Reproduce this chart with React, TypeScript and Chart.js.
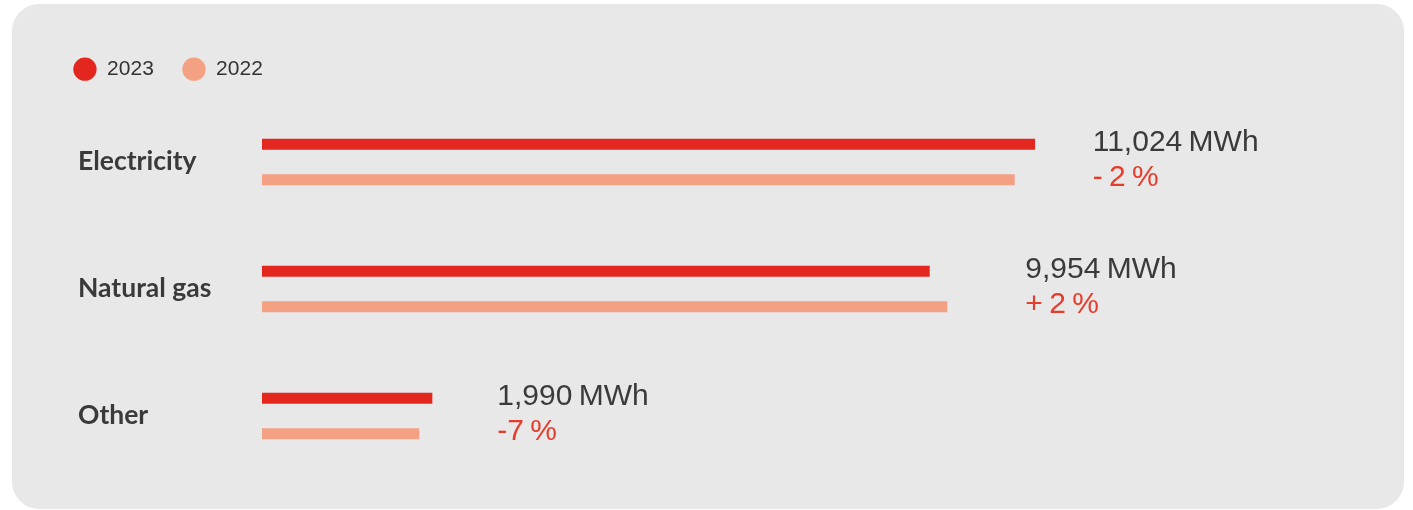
import React, { useEffect, useRef } from 'react';
import { Chart, registerables } from 'chart.js';

Chart.register(...registerables);

// ---- data ----
const categories = ['Electricity', 'Natural gas', 'Other'];
const seriesNames = ['2023', '2022'];
// bar lengths as drawn in the picture (MWh scale)
const bars2023 = [11024, 9522, 2429];
const bars2022 = [10734, 9773, 2243];
const valueLabels = ['11,024 MWh', '9,954 MWh', '1,990 MWh'];
const changeLabels = ['- 2 %', '+ 2 %', '-7 %'];
const axisMin = 0;
const axisMax = 16000;

const RED = '#e3271f';
const SALMON = '#f3a083';

const valueLabelPlugin = {
  id: 'valueLabels',
  afterDatasetsDraw(chart: any) {
    const ctx = chart.ctx as CanvasRenderingContext2D;
    const m0 = chart.getDatasetMeta(0);
    const m1 = chart.getDatasetMeta(1);
    ctx.save();
    ctx.textAlign = 'left';
    ctx.textBaseline = 'alphabetic';
    categories.forEach((_, i) => {
      const b0 = m0.data[i];
      const b1 = m1.data[i];
      const x = b1.x + 78;
      ctx.font = '30px "Liberation Sans", Arial, sans-serif';
      ctx.fillStyle = '#3a3a3a';
      (ctx as any).wordSpacing = '-2px';
      ctx.fillText(valueLabels[i], x, b0.y + 6.5);
      ctx.fillStyle = '#e63c2b';
      (ctx as any).wordSpacing = '-2px';
      ctx.fillText(changeLabels[i], x, b1.y + 6);
      (ctx as any).wordSpacing = '0px';
    });
    ctx.restore();
  },
};

export default function App() {
  const ref = useRef<HTMLCanvasElement | null>(null);

  useEffect(() => {
    if (!ref.current) return;
    const chart = new Chart(ref.current, {
      type: 'bar',
      data: {
        labels: categories,
        datasets: [
          { label: seriesNames[0], data: bars2023, backgroundColor: RED, borderWidth: 0, xAxisID: 'x', yAxisID: 'y' },
          { label: seriesNames[1], data: bars2022, backgroundColor: SALMON, borderWidth: 0, xAxisID: 'x', yAxisID: 'y' },
        ],
      },
      options: {
        indexAxis: 'y',
        animation: false,
        responsive: false,
        maintainAspectRatio: false,
        layout: { autoPadding: false, padding: { top: 26.2, left: 32.8, right: 20, bottom: 29.5 } },
        datasets: { bar: { categoryPercentage: 0.5606, barPercentage: 0.309 } },
        scales: {
          x: {
            type: 'linear',
            position: 'top',
            min: axisMin,
            max: axisMax,
            display: true,
            grid: { display: false },
            border: { display: false },
            ticks: { display: false },
            afterFit: (s: any) => { s.height = 8.8; },
          },
          y: {
            type: 'category',
            position: 'left',
            grid: { display: false },
            border: { display: false },
            ticks: {
              crossAlign: 'far',
              labelOffset: -1,
              color: '#3a3a3a',
              font: { family: 'Lato', weight: 'bold', size: 26.5 },
            },
            afterFit: (s: any) => { s.width = 184; },
          },
          gutter: {
            type: 'linear',
            axis: 'y',
            position: 'left',
            weight: 1,
            display: true,
            grid: { display: false },
            border: { display: false },
            ticks: { display: false },
            afterFit: (s: any) => { s.width = 33.2; },
          },
        } as any,
        plugins: {
          tooltip: { enabled: false },
          legend: {
            display: true,
            position: 'top',
            align: 'start',
            labels: {
              usePointStyle: true,
              pointStyle: 'circle',
              pointStyleWidth: 23.3,
              boxHeight: 16.5,
              padding: 28.5,
              color: '#333333',
              font: { family: '"Liberation Sans", Arial, sans-serif', size: 21 },
            },
          },
        },
      },
      plugins: [valueLabelPlugin],
    });
    return () => chart.destroy();
  }, []);

  return (
    <div
      style={{
        position: 'absolute',
        left: 12,
        top: 4,
        width: 1392,
        height: 505,
        background: '#e8e8e8',
        borderRadius: 27,
        overflow: 'hidden',
      }}
    >
      <canvas ref={ref} width={1392} height={505} style={{ display: 'block' }} />
    </div>
  );
}
